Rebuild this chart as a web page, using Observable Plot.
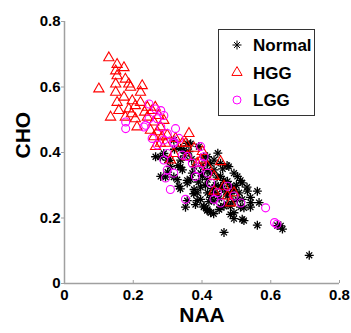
<!DOCTYPE html>
<html>
<head>
<meta charset="utf-8">
<script src="https://cdn.jsdelivr.net/npm/d3@7"></script>
<script src="https://cdn.jsdelivr.net/npm/@observablehq/plot@0.6"></script>
<style>
  html, body { margin: 0; padding: 0; background: #fff; }
  #wrap { position: relative; width: 351px; height: 333px; }
  #legend { position: absolute; left: 218px; top: 29px; }
</style>
</head>
<body>
<div id="wrap"></div>
<script>
// ---- data ----
const groups = ["Normal", "HGG", "LGG"];
const groupColors = ["#000000", "#ff0000", "#ff00ff"];
const xTicks = [0, 0.2, 0.4, 0.6, 0.8];
const yTicks = [0, 0.2, 0.4, 0.6, 0.8];
const xLabel = "NAA";
const yLabel = "CHO";

const normalNAA = [0.712,0.464,0.561,0.629,0.634,0.619,0.517,0.493,0.483,0.522,0.434,0.405,0.415,0.454,0.473,0.512,0.541,0.522,0.561,0.566,0.541,0.531,0.512,0.517,0.493,0.473,0.446,0.454,0.416,0.405,0.425,0.391,0.367,0.357,0.347,0.318,0.265,0.279,0.289,0.299,0.308,0.280,0.294,0.318,0.308,0.338,0.338,0.343,0.337,0.333,0.337,0.328,0.357,0.357,0.357,0.352,0.381,0.386,0.396,0.376,0.386,0.377,0.396,0.367,0.372,0.396,0.401,0.416,0.415,0.425,0.435,0.444,0.454,0.463,0.474,0.478,0.503,0.483,0.454,0.444,0.435,0.416,0.425,0.435,0.416,0.406,0.425,0.450,0.464,0.483,0.493,0.503,0.483,0.474,0.493,0.508,0.517,0.532,0.542,0.362,0.377,0.416,0.435,0.460,0.470,0.440,0.430,0.490,0.500,0.450,0.410,0.390,0.420,0.460,0.400,0.370,0.350,0.330,0.300,0.320];
const normalCHO = [0.086,0.156,0.178,0.176,0.166,0.177,0.196,0.198,0.211,0.192,0.213,0.233,0.223,0.233,0.243,0.233,0.233,0.231,0.282,0.247,0.263,0.294,0.315,0.307,0.337,0.360,0.398,0.367,0.387,0.386,0.366,0.418,0.427,0.428,0.406,0.438,0.387,0.386,0.397,0.377,0.376,0.327,0.325,0.325,0.357,0.377,0.413,0.347,0.355,0.297,0.289,0.317,0.315,0.307,0.253,0.233,0.241,0.253,0.257,0.274,0.277,0.287,0.294,0.317,0.337,0.337,0.327,0.317,0.345,0.337,0.347,0.325,0.327,0.315,0.312,0.357,0.327,0.297,0.297,0.274,0.277,0.277,0.263,0.252,0.226,0.236,0.216,0.226,0.236,0.236,0.216,0.257,0.274,0.267,0.287,0.277,0.257,0.282,0.247,0.403,0.357,0.367,0.377,0.290,0.280,0.300,0.290,0.250,0.300,0.260,0.300,0.310,0.250,0.350,0.360,0.380,0.390,0.360,0.340,0.410];

const hggNAA = [0.129,0.100,0.153,0.149,0.173,0.153,0.149,0.177,0.187,0.192,0.149,0.173,0.153,0.134,0.158,0.197,0.206,0.187,0.226,0.221,0.221,0.241,0.177,0.206,0.211,0.241,0.255,0.264,0.260,0.274,0.250,0.270,0.260,0.279,0.289,0.284,0.265,0.279,0.294,0.299,0.362,0.343,0.323,0.353,0.377,0.401,0.396,0.416,0.386,0.454,0.435,0.464,0.474,0.493,0.483,0.435,0.318,0.308,0.357,0.233,0.195];
const hggCHO = [0.689,0.594,0.669,0.649,0.659,0.634,0.609,0.624,0.609,0.599,0.584,0.569,0.553,0.508,0.528,0.558,0.543,0.533,0.604,0.584,0.553,0.538,0.508,0.503,0.478,0.508,0.528,0.538,0.493,0.513,0.468,0.463,0.448,0.478,0.498,0.448,0.418,0.428,0.428,0.453,0.458,0.428,0.443,0.428,0.413,0.403,0.377,0.357,0.367,0.372,0.327,0.297,0.267,0.277,0.246,0.282,0.397,0.377,0.387,0.523,0.518];

const lggNAA = [0.178,0.178,0.231,0.246,0.265,0.280,0.270,0.289,0.246,0.236,0.323,0.280,0.299,0.289,0.255,0.299,0.289,0.299,0.318,0.308,0.294,0.352,0.318,0.343,0.372,0.396,0.401,0.391,0.381,0.416,0.425,0.445,0.435,0.474,0.493,0.513,0.585,0.611,0.618,0.357,0.333,0.318,0.270,0.454,0.406];
const lggCHO = [0.473,0.493,0.478,0.548,0.533,0.528,0.503,0.513,0.503,0.483,0.473,0.478,0.458,0.438,0.443,0.397,0.377,0.347,0.337,0.287,0.322,0.257,0.433,0.392,0.367,0.418,0.367,0.347,0.327,0.337,0.307,0.277,0.257,0.297,0.267,0.246,0.231,0.186,0.181,0.388,0.443,0.428,0.423,0.246,0.387];

const normal = normalNAA.map((x, i) => ({x, y: normalCHO[i]}));
const hgg = hggNAA.map((x, i) => ({x, y: hggCHO[i]}));
const lgg = lggNAA.map((x, i) => ({x, y: lggCHO[i]}));

const font = "'Liberation Sans', Arial, sans-serif";
const fmt = d3.format("~g");

const chart = Plot.plot({
  width: 351,
  height: 333,
  marginLeft: 64,
  marginRight: 12,
  marginTop: 21,
  marginBottom: 50,
  style: {fontFamily: font, fontWeight: "bold", fontSize: "15px", color: "#000", background: "#fff"},
  x: {domain: [0, 0.8]},
  y: {domain: [0, 0.8]},
  marks: [
    Plot.ruleX([0], {stroke: "#a0a0a0", strokeWidth: 1.5}),
    Plot.ruleY([0], {stroke: "#a0a0a0", strokeWidth: 1.5}),
    Plot.axisX({ticks: xTicks, tickFormat: fmt, tickSize: -3, tickPadding: 9, stroke: "#a0a0a0", label: null, fill: "#000", fontSize: 15}),
    Plot.axisY({ticks: yTicks, tickFormat: fmt, tickSize: 3, tickPadding: 1, stroke: "#a0a0a0", label: null, fill: "#000", fontSize: 15}),
    Plot.dot(normal, {x: "x", y: "y", symbol: "plus", r: 3, stroke: groupColors[0], strokeWidth: 1.3}),
    Plot.dot(normal, {x: "x", y: "y", symbol: "times", r: 2.8, stroke: groupColors[0], strokeWidth: 1.3}),
    Plot.dot(hgg, {x: "x", y: "y", symbol: "triangle", r: 3.8, stroke: groupColors[1], fill: "none", strokeWidth: 1.1}),
    Plot.dot(lgg, {x: "x", y: "y", symbol: "circle", r: 4, stroke: groupColors[2], fill: "none", strokeWidth: 1.1}),
    Plot.text([xLabel], {frameAnchor: "bottom", dy: 38, text: d => d, fontSize: 21, fontWeight: "bold", fill: "#000"}),
    Plot.text([yLabel], {frameAnchor: "left", dx: -41, dy: 6, rotate: -90, text: d => d, fontSize: 21, fontWeight: "bold", fill: "#000"})
  ]
});

const wrap = document.getElementById("wrap");
wrap.appendChild(chart);

// legend (inside plot area, upper right), built from the group arrays
const lw = 97, lh = 87;
const legend = d3.create("svg")
  .attr("id", "legend")
  .attr("width", lw)
  .attr("height", lh)
  .style("font-family", font)
  .style("font-weight", "bold")
  .style("font-size", "17px");
legend.append("rect")
  .attr("x", 0.5).attr("y", 0.5)
  .attr("width", lw - 1).attr("height", lh - 1)
  .attr("fill", "#fff").attr("stroke", "#333").attr("stroke-width", 1);
const rowY = i => 16 + i * 27.5;
const symbolsByGroup = [
  [d3.symbolPlus, d3.symbolTimes],
  [d3.symbolTriangle],
  [d3.symbolCircle]
];
const sizes = [[Math.PI * 9, Math.PI * 2.8 * 2.8], [Math.PI * 3.8 * 3.8], [Math.PI * 16]];
groups.forEach((g, i) => {
  const row = legend.append("g").attr("transform", `translate(0,${rowY(i)})`);
  symbolsByGroup[i].forEach((s, k) => {
    row.append("path")
      .attr("transform", "translate(19,0)")
      .attr("d", d3.symbol(s, sizes[i][k])())
      .attr("fill", "none")
      .attr("stroke", groupColors[i])
      .attr("stroke-width", 1);
  });
  row.append("text")
    .attr("x", 35)
    .attr("dy", "0.36em")
    .attr("fill", "#000")
    .text(g);
});
wrap.appendChild(legend.node());
</script>
</body>
</html>
